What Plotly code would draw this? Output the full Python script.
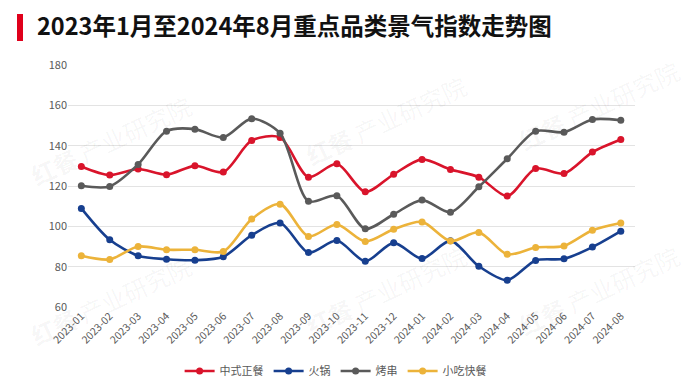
import plotly.graph_objects as go

months = ["2023-01","2023-02","2023-03","2023-04","2023-05","2023-06","2023-07","2023-08",
          "2023-09","2023-10","2023-11","2023-12","2024-01","2024-02","2024-03","2024-04",
          "2024-05","2024-06","2024-07","2024-08"]
zhongshi = [129.7,125.4,128.4,125.6,130.0,126.9,142.6,144.1,124.4,131.0,117.1,125.8,133.2,128.2,124.4,115.0,128.7,126.2,136.8,143.1]
huoguo = [108.9,93.3,85.4,83.7,83.2,84.9,95.6,101.7,87.0,93.0,82.7,91.8,84.0,92.8,80.2,73.3,83.1,83.9,89.7,97.6]
kaochuan = [120.1,119.8,130.7,147.2,148.2,144.1,153.4,146.1,112.4,115.2,98.8,106.0,113.0,107.0,119.6,133.5,147.2,146.7,153.0,152.6]
xiaochi = [85.4,83.6,90.0,88.4,88.4,87.5,103.6,111.0,95.0,100.9,92.5,98.6,102.2,92.7,97.0,86.1,89.5,90.3,98.1,101.7]

series = [("中式正餐", zhongshi, "#d9142b"),
          ("火锅", huoguo, "#173f8f"),
          ("烤串", kaochuan, "#5a5a5a"),
          ("小吃快餐", xiaochi, "#ecb33a")]

W, H = 689, 384
ml, mr, mt, mb = 68, 54, 65, 77
pw, ph = W - ml - mr, H - mt - mb

fig = go.Figure()
for name, vals, col in series:
    fig.add_trace(go.Scatter(
        x=months, y=vals, name=name, mode="lines+markers",
        line=dict(color=col, width=2.6, shape="spline", smoothing=0.8),
        marker=dict(color=col, size=7),
    ))

def px2paper(x, y):
    return (x - ml) / pw, (H - mb - y) / ph

annotations = []
# watermark
for cx, cy in [(110, 140), (385, 120), (598, 105), (110, 300), (385, 290), (598, 290)]:
    px_, py_ = px2paper(cx, cy)
    annotations.append(dict(text="<b>红餐</b> 产业研究院", x=px_, y=py_,
                            xref="paper", yref="paper", xanchor="center", yanchor="middle",
                            showarrow=False, textangle=-25,
                            font=dict(size=24, color="rgba(0,0,0,0.045)", family="Noto Sans CJK SC")))

bx0, by0 = px2paper(17, 14)
bx1, by1 = px2paper(23, 41)

fig.update_layout(
    width=W, height=H,
    margin=dict(l=ml, r=mr, t=mt, b=mb, autoexpand=False),
    paper_bgcolor="white", plot_bgcolor="white",
    font=dict(family="Noto Sans CJK SC, Noto Sans, sans-serif", color="#595959", size=11),
    title=dict(text="<b>2023年1月至2024年8月重点品类景气指数走势图</b>",
               x=37 / W, xanchor="left", xref="container",
               y=1 - 27 / H, yanchor="middle", yref="container",
               font=dict(size=23.5, color="#111111", family="Noto Sans CJK SC")),
    xaxis=dict(type="category", range=[-0.47, len(months) - 0.5], tickangle=-45,
               showgrid=False, showline=False, ticks="",
               automargin=False, tickfont=dict(size=10.5, color="#595959")),
    yaxis=dict(range=[60, 180], dtick=20, showgrid=True, gridcolor="#e3e3e3", gridwidth=1,
               automargin=False, zeroline=False, showline=False, ticks="",
               tickfont=dict(size=11, color="#595959")),
    legend=dict(orientation="h", x=0.472, xanchor="center", y=(H - mb - 371) / ph, yanchor="middle",
                font=dict(size=11, color="#595959"), itemwidth=30, tracegroupgap=0),
    showlegend=True,
    shapes=[dict(type="rect", xref="paper", yref="paper", x0=bx0, x1=bx1, y0=by0, y1=by1,
                 fillcolor="#e0001b", line=dict(width=0))],
    annotations=annotations,
)

fig.write_html("out.html", config={"displayModeBar": False},
               post_script="document.body.style.margin='0';document.body.style.overflow='hidden';")
